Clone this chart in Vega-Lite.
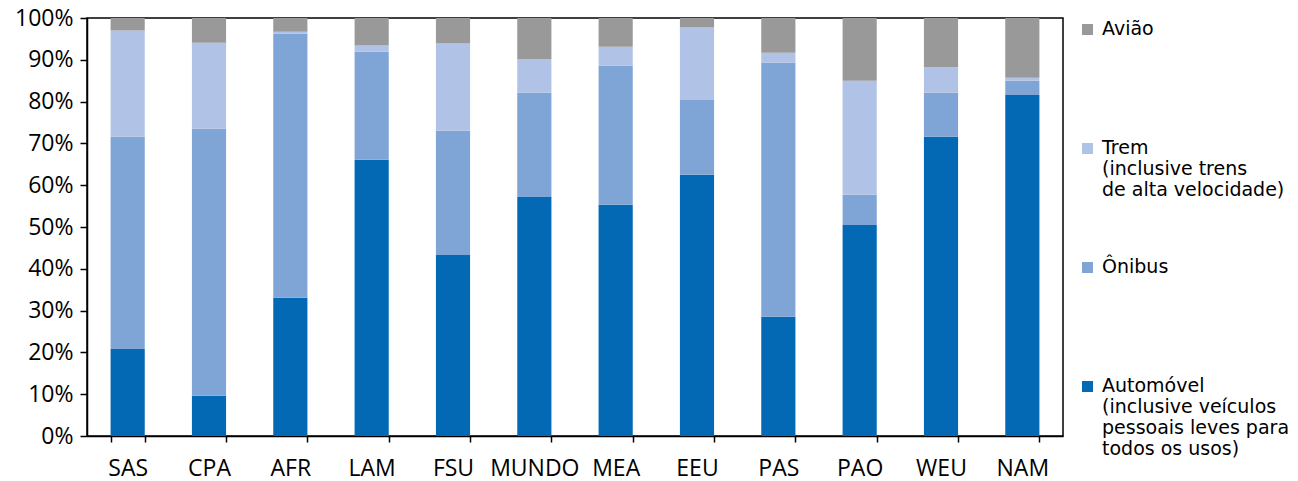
{
  "$schema": "https://vega.github.io/schema/vega-lite/v6.json",
  "width": 976,
  "height": 418,
  "autosize": {"type": "none"},
  "padding": {"left": 87, "top": 18, "right": 235, "bottom": 45},
  "background": "white",
  "config": {
    "view": {"stroke": "black", "strokeWidth": 1.5},
    "font": "Open Sans"
  },
  "data": {
    "values": [
      {"regiao": "SAS", "modo": "Automóvel", "valor": 20.8},
      {"regiao": "SAS", "modo": "Ônibus", "valor": 50.8},
      {"regiao": "SAS", "modo": "Trem", "valor": 25.4},
      {"regiao": "SAS", "modo": "Avião", "valor": 3.0},
      {"regiao": "CPA", "modo": "Automóvel", "valor": 9.6},
      {"regiao": "CPA", "modo": "Ônibus", "valor": 63.9},
      {"regiao": "CPA", "modo": "Trem", "valor": 20.6},
      {"regiao": "CPA", "modo": "Avião", "valor": 5.9},
      {"regiao": "AFR", "modo": "Automóvel", "valor": 33.1},
      {"regiao": "AFR", "modo": "Ônibus", "valor": 63.2},
      {"regiao": "AFR", "modo": "Trem", "valor": 0.4},
      {"regiao": "AFR", "modo": "Avião", "valor": 3.3},
      {"regiao": "LAM", "modo": "Automóvel", "valor": 66.1},
      {"regiao": "LAM", "modo": "Ônibus", "valor": 25.8},
      {"regiao": "LAM", "modo": "Trem", "valor": 1.5},
      {"regiao": "LAM", "modo": "Avião", "valor": 6.6},
      {"regiao": "FSU", "modo": "Automóvel", "valor": 43.3},
      {"regiao": "FSU", "modo": "Ônibus", "valor": 29.7},
      {"regiao": "FSU", "modo": "Trem", "valor": 20.9},
      {"regiao": "FSU", "modo": "Avião", "valor": 6.1},
      {"regiao": "MUNDO", "modo": "Automóvel", "valor": 57.2},
      {"regiao": "MUNDO", "modo": "Ônibus", "valor": 24.9},
      {"regiao": "MUNDO", "modo": "Trem", "valor": 8.1},
      {"regiao": "MUNDO", "modo": "Avião", "valor": 9.8},
      {"regiao": "MEA", "modo": "Automóvel", "valor": 55.3},
      {"regiao": "MEA", "modo": "Ônibus", "valor": 33.3},
      {"regiao": "MEA", "modo": "Trem", "valor": 4.5},
      {"regiao": "MEA", "modo": "Avião", "valor": 6.9},
      {"regiao": "EEU", "modo": "Automóvel", "valor": 62.5},
      {"regiao": "EEU", "modo": "Ônibus", "valor": 17.9},
      {"regiao": "EEU", "modo": "Trem", "valor": 17.3},
      {"regiao": "EEU", "modo": "Avião", "valor": 2.3},
      {"regiao": "PAS", "modo": "Automóvel", "valor": 28.5},
      {"regiao": "PAS", "modo": "Ônibus", "valor": 60.8},
      {"regiao": "PAS", "modo": "Trem", "valor": 2.4},
      {"regiao": "PAS", "modo": "Avião", "valor": 8.3},
      {"regiao": "PAO", "modo": "Automóvel", "valor": 50.5},
      {"regiao": "PAO", "modo": "Ônibus", "valor": 7.2},
      {"regiao": "PAO", "modo": "Trem", "valor": 27.3},
      {"regiao": "PAO", "modo": "Avião", "valor": 15.0},
      {"regiao": "WEU", "modo": "Automóvel", "valor": 71.6},
      {"regiao": "WEU", "modo": "Ônibus", "valor": 10.5},
      {"regiao": "WEU", "modo": "Trem", "valor": 6.2},
      {"regiao": "WEU", "modo": "Avião", "valor": 11.7},
      {"regiao": "NAM", "modo": "Automóvel", "valor": 81.6},
      {"regiao": "NAM", "modo": "Ônibus", "valor": 3.4},
      {"regiao": "NAM", "modo": "Trem", "valor": 0.7},
      {"regiao": "NAM", "modo": "Avião", "valor": 14.3}
    ]
  },
  "transform": [
    {"calculate": "indexof(['Automóvel','Ônibus','Trem','Avião'], datum.modo)", "as": "ordem"}
  ],
  "mark": {"type": "bar"},
  "encoding": {
    "x": {
      "field": "regiao",
      "type": "nominal",
      "sort": null,
      "scale": {"paddingInner": 0.58, "paddingOuter": 0.29},
      "axis": {
        "title": null,
        "labelAngle": 0,
        "labelFontSize": 23,
        "labelColor": "black",
        "domainColor": "black",
        "domainWidth": 1.5,
        "tickColor": "black",
        "tickWidth": 1.5,
        "tickSize": 6,
        "tickBand": "extent",
        "labelPadding": 15
      }
    },
    "y": {
      "field": "valor",
      "type": "quantitative",
      "stack": "normalize",
      "scale": {"domain": [0, 1]},
      "axis": {
        "title": null,
        "grid": false,
        "values": [0, 0.1, 0.2, 0.3, 0.4, 0.5, 0.6, 0.7, 0.8, 0.9, 1],
        "format": ".0%",
        "labelFontSize": 23,
        "labelColor": "black",
        "domainColor": "black",
        "domainWidth": 1.5,
        "tickColor": "black",
        "tickWidth": 1.5,
        "tickSize": 7,
        "labelPadding": 7
      }
    },
    "color": {
      "field": "modo",
      "type": "nominal",
      "scale": {
        "domain": ["Avião", "Trem", "Ônibus", "Automóvel"],
        "range": ["#999999", "#B0C2E5", "#7FA4D6", "#0369B5"]
      },
      "legend": {
        "title": null,
        "orient": "none",
        "legendX": 991,
        "legendY": -8,
        "padding": 0,
        "labelFont": "DejaVu Sans",
        "labelFontSize": 19,
        "labelLineHeight": 22,
        "labelBaseline": "top",
        "labelColor": "black",
        "labelLimit": 400,
        "labelOffset": 5,
        "symbolType": "M-1,0.82H1V2.82H-1Z",
        "symbolSize": 121,
        "symbolStrokeWidth": 0,
        "symbolOpacity": 1,
        "rowPadding": 27,
        "labelExpr": "datum.value == 'Avião' ? ['Avião','','',''] : datum.value == 'Trem' ? ['Trem','(inclusive trens','de alta velocidade)',''] : datum.value == 'Ônibus' ? ['Ônibus','','',''] : ['Automóvel','(inclusive veículos','pessoais leves para','todos os usos)']"
      }
    },
    "order": {"field": "ordem", "type": "quantitative"}
  }
}
